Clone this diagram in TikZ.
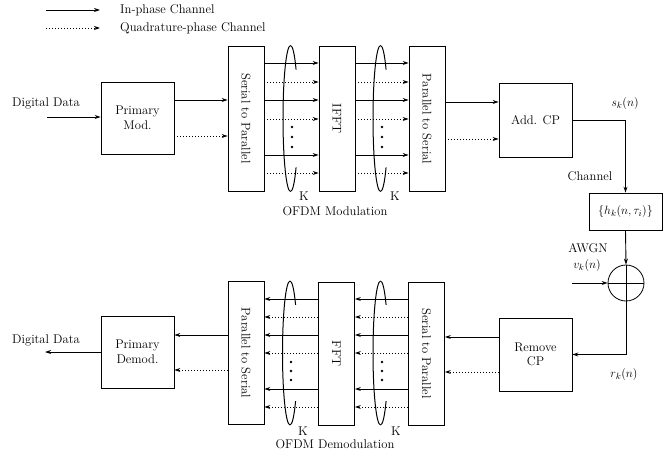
\documentclass[tikz,border=0pt]{standalone}
\usepackage{graphicx}
\usetikzlibrary{arrows.meta}
\begin{document}
\begin{tikzpicture}[x=1pt,y=-1pt,
  font=\fontsize{12.6}{14.5}\selectfont,
  box/.style={draw,line width=0.8pt,minimum width=73pt,minimum height=73pt,align=center,inner sep=0pt},
  tall/.style={draw,line width=0.8pt,minimum width=36pt,minimum height=144pt,inner sep=0pt},
  sarr/.style={line width=0.9pt,-{Stealth[length=6pt,width=4pt]}},
  darr/.style={line width=0.9pt,dash pattern=on 1pt off 2pt,-{Stealth[length=6pt,width=4pt]}},
  loopline/.style={line width=1pt},
  lbl/.style={inner sep=0pt}]
\useasboundingbox (0,0) rectangle (663,452);

% legend
\coordinate (l1a) at (46,10); \coordinate (l1b) at (100,10);
\coordinate (l2a) at (46,28); \coordinate (l2b) at (100,28);
\draw[sarr] (l1a) -- (l1b);
\draw[darr] (l2a) -- (l2b);
\node[lbl,anchor=west] (leg1) at (120,10) {In-phase Channel};
\node[lbl,anchor=west] (leg2) at (120,28) {Quadrature-phase Channel};

% upper row
\node[box,minimum height=72pt] (pmod) at (137.5,118) {Primary\\Mod.};
\node[tall,minimum height=145pt] (sp1) at (246,118.5) {\rotatebox{-90}{Serial to Parallel}};
\node[tall,minimum height=145pt] (ifft) at (337,118.5) {\rotatebox{-90}{IFFT}};
\node[tall,minimum height=145pt] (ps1) at (427,119) {\rotatebox{-90}{Parallel to Serial}};
\node[box,minimum height=74pt] (addcp) at (535.5,120) {Add. CP};
\node[draw,line width=0.8pt,minimum width=73pt,minimum height=37pt,inner sep=0pt] (chan) at (625.5,211.5) {$\{h_k(n,\tau_i)\}$};
\node[draw,circle,line width=0.8pt,minimum size=36pt,inner sep=0pt] (sum) at (626,283) {};
\draw[line width=0.8pt] (sum.north) -- (sum.south) (sum.west) -- (sum.east);

% lower row
\node[box] (rcp) at (535.5,354.5) {Remove\\CP};
\node[tall,minimum height=143pt] (sp2) at (426.5,353.5) {\rotatebox{-90}{Serial to Parallel}};
\node[tall,minimum height=143pt] (fft) at (336.5,353.5) {\rotatebox{-90}{FFT}};
\node[tall,minimum height=143pt] (ps2) at (246,353) {\rotatebox{-90}{Parallel to Serial}};
\node[box,minimum height=72pt] (pdem) at (137.5,352) {Primary\\Demod.};

% labels
\node[lbl] (dd1) at (46,103) {Digital Data};
\node[lbl] (dd2) at (46,340) {Digital Data};
\node[lbl] (k1) at (304,196) {K};
\node[lbl] (k2) at (395,196) {K};
\node[lbl] (k3) at (303,431) {K};
\node[lbl] (k4) at (396,431) {K};
\node[lbl] (ofdm1) at (335,211) {OFDM Modulation};
\node[lbl] (ofdm2) at (335,444) {OFDM Demodulation};
\node[lbl] (sk) at (625,103) {$s_k(n)$};
\node[lbl] (chl) at (590,176) {Channel};
\node[lbl] (awgn) at (588,248) {AWGN};
\node[lbl] (vk) at (587,265) {$v_k(n)$};
\node[lbl] (rk) at (624,374) {$r_k(n)$};

% upper connections
\coordinate (din) at (47,117);
\draw[sarr] (din) -- (din -| pmod.west);
\draw[sarr] (pmod.east |- 0,100) -- (sp1.west |- 0,100);
\draw[darr] (pmod.east |- 0,136) -- (sp1.west |- 0,136);
\foreach \y in {63,100,155} {
  \draw[sarr] (sp1.east |- 0,\y) -- (ifft.west |- 0,\y);
  \draw[sarr] (ifft.east |- 0,\y) -- (ps1.west |- 0,\y);
}
\foreach \y in {82,119,173} {
  \draw[darr] (sp1.east |- 0,\y) -- (ifft.west |- 0,\y);
  \draw[darr] (ifft.east |- 0,\y) -- (ps1.west |- 0,\y);
}
\draw[sarr] (ps1.east |- 0,102) -- (addcp.west |- 0,102);
\draw[darr] (ps1.east |- 0,139) -- (addcp.west |- 0,139);
\draw[sarr] (addcp.east) -- (addcp.east -| chan.north) -- (chan.north);
\draw[sarr] (chan.south) -- (sum.north);
\coordinate (nz) at (572,283);
\draw[sarr] (nz) -- (sum.west);
\draw[sarr] (sum.south) |- (rcp.east);

% lower connections
\draw[sarr] (rcp.west |- 0,337) -- (sp2.east |- 0,337);
\draw[darr] (rcp.west |- 0,372) -- (sp2.east |- 0,372);
\foreach \y in {299,335,389} {
  \draw[sarr] (sp2.west |- 0,\y) -- (fft.east |- 0,\y);
  \draw[sarr] (fft.west |- 0,\y) -- (ps2.east |- 0,\y);
}
\foreach \y in {317,353,407} {
  \draw[darr] (sp2.west |- 0,\y) -- (fft.east |- 0,\y);
  \draw[darr] (fft.west |- 0,\y) -- (ps2.east |- 0,\y);
}
\draw[sarr] (ps2.west |- 0,335) -- (pdem.east |- 0,335);
\draw[darr] (ps2.west |- 0,370) -- (pdem.east |- 0,370);
\coordinate (dout) at (45,352);
\draw[sarr] (pdem.west) -- (dout);

% dots
\foreach \x/\ys in {292/127,292/137,292/147,382/127,382/137,382/147,291/362,291/371,291/380,382/362,382/371,382/380}
  \fill (\x,\ys) circle[radius=1.3pt];

% loops
\foreach \cx/\cy/\ry in {290.5/118.5/73, 380.5/118.5/73, 290/353/72, 380.5/353/72} {
  \draw[loopline] (\cx,{\cy-\ry}) arc[start angle=-90,end angle=-270,x radius=7.5,y radius=\ry];
  \draw[loopline] (\cx,{\cy-\ry}) arc[start angle=-90,end angle=-42,x radius=7.5,y radius=\ry];
  \draw[loopline] (\cx,{\cy+\ry}) arc[start angle=90,end angle=42,x radius=7.5,y radius=\ry];
}
\end{tikzpicture}
\end{document}
